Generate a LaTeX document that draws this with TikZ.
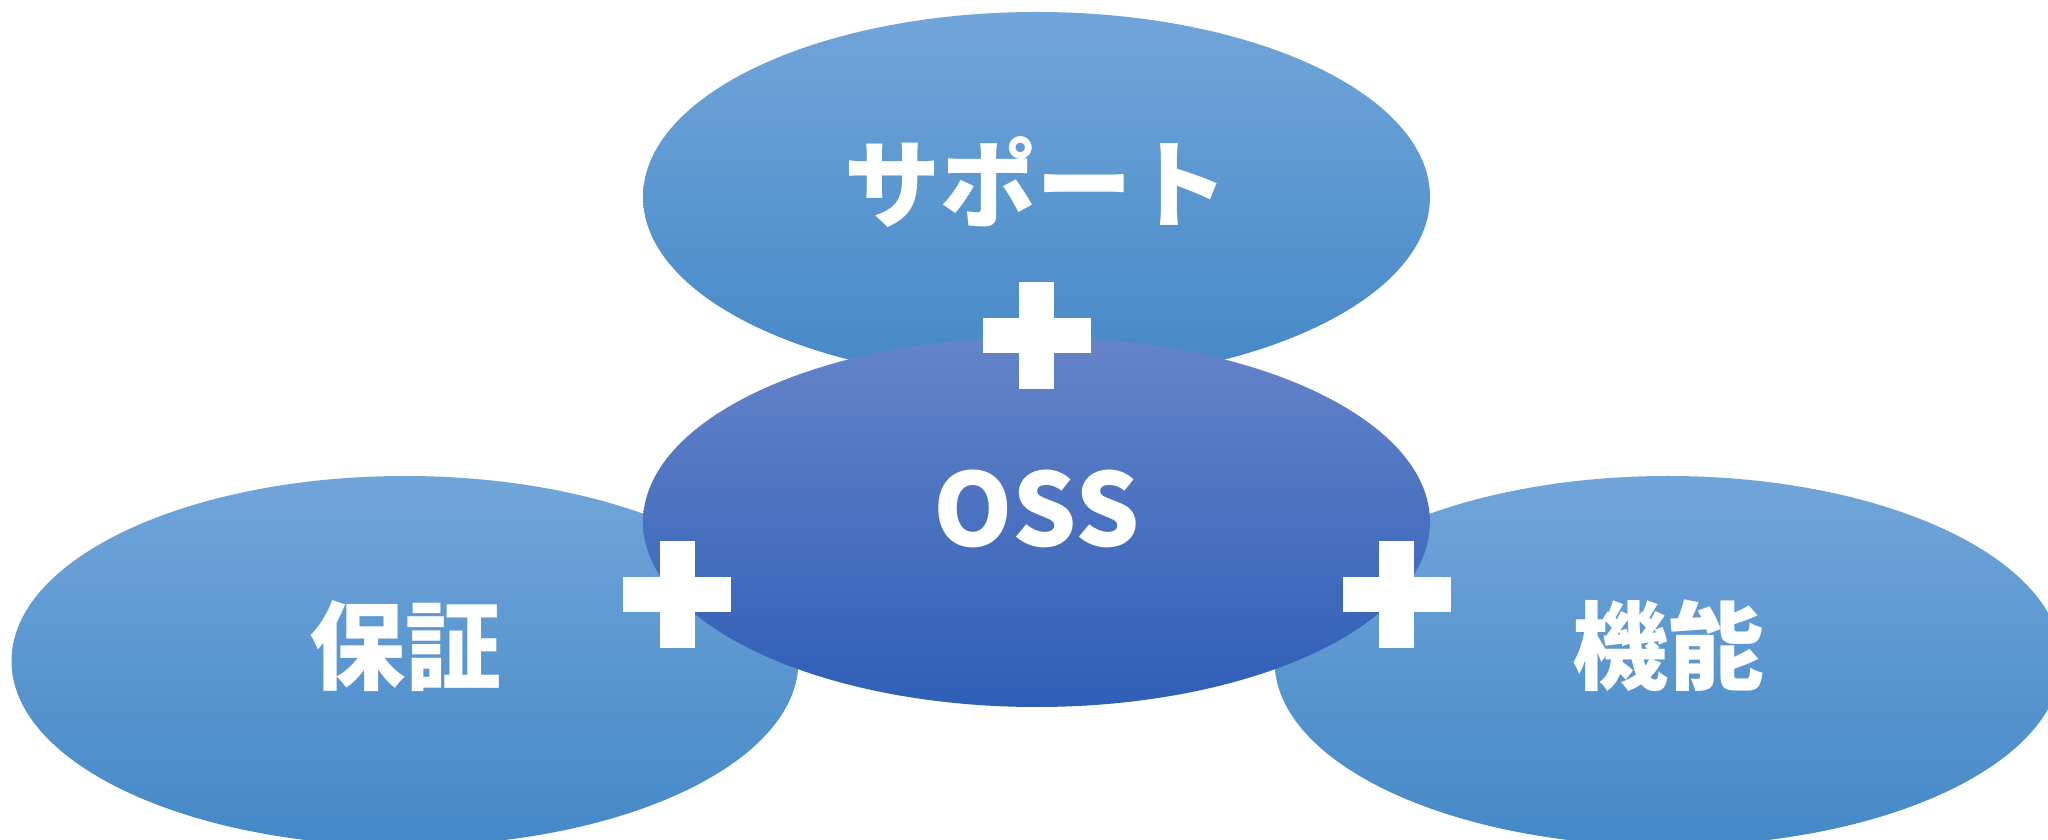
\documentclass[tikz,border=0pt]{standalone}
\usepackage{fontspec}
\usetikzlibrary{shapes.geometric}
\newfontfamily\jpfont{Noto Sans CJK JP}
\definecolor{lbtop}{HTML}{71A5D9}
\definecolor{lbmid}{HTML}{5A9BDA}
\definecolor{lbbot}{HTML}{4488C7}
\definecolor{dbtop}{HTML}{6584C9}
\definecolor{dbmid}{HTML}{4371C7}
\definecolor{dbbot}{HTML}{2E5EB6}
\tikzset{
  blob/.style={ellipse, inner sep=0pt, minimum width=787pt, minimum height=370pt},
  lightblob/.style={blob, top color=lbtop, middle color=lbmid, bottom color=lbbot},
  darkblob/.style={blob, top color=dbtop, middle color=dbmid, bottom color=dbbot},
  jplabel/.style={text=white, inner sep=0pt, font=\jpfont\bfseries\fontsize{96}{100}\selectfont},
  osslabel/.style={text=white, inner sep=0pt, font=\jpfont\bfseries\fontsize{101}{104}\selectfont},
  plussign/.pic={
    \fill[white] (-54,-17.5) rectangle (54,17.5);
    \fill[white] (-17.5,-53.5) rectangle (17.5,53.5);
  }
}
\begin{document}
\begin{tikzpicture}[x=1pt,y=1pt]
\useasboundingbox (0,0) rectangle (2048,840);
\clip (0,0) rectangle (2048,840);
\fill[white] (0,0) rectangle (2048,840);
% outer ellipses
\node[lightblob] (sup) at (1036.5,643) {};
\node[lightblob] (hosho) at (405,179) {};
\node[lightblob] (kino) at (1668,179) {};
% central ellipse
\node[darkblob] (oss) at (1036.5,318) {};
% labels
\node[jplabel] (tsup) at ([yshift=15pt]sup.center) {サポート};
\node[jplabel] (thosho) at ([yshift=15pt]hosho.center) {保証};
\node[jplabel] (tkino) at ([yshift=15pt]kino.center) {機能};
\node[osslabel] (toss) at ([yshift=13pt]oss.center) {OSS};
% plus signs
\pic at (1036.5,504) {plussign};
\pic at (677,245) {plussign};
\pic at (1396.5,245) {plussign};
\end{tikzpicture}
\end{document}
